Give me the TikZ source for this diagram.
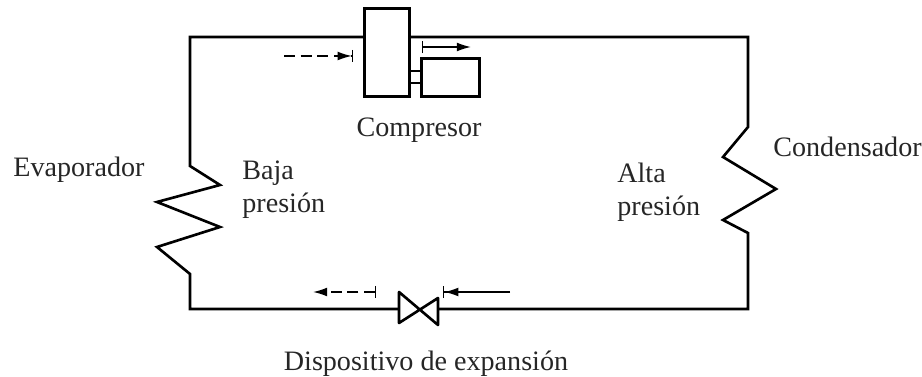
\documentclass[tikz,border=0pt]{standalone}
\usepackage{fontspec}
\setmainfont{Liberation Serif}
\usetikzlibrary{arrows.meta, positioning, calc}

\tikzset{
  pipe/.style={line width=1.5pt, line join=miter},
  unitbox/.style={draw, line width=1.5pt, fill=white, inner sep=0pt},
  flowarrow/.style={line width=0.8pt, -{Latex[length=8pt,width=5pt]Bar[width=7pt,line width=0.7pt]}},
  flowdash/.style={flowarrow, dash pattern=on 6.3pt off 3.2pt},
  label/.style={font=\fontsize{16}{19}\selectfont, inner sep=0pt, text=black!85},
}

\begin{document}
\begin{tikzpicture}[x=0.02cm,y=-0.02cm,>=latex]
\useasboundingbox (0,0) rectangle (922,377);

% Corners of the loop
\coordinate (tleft) at (190,37);
\coordinate (tright) at (748,37);
\coordinate (bright) at (748,309);
\coordinate (bleft) at (190,309);

% Compressor and motor
\node[unitbox, minimum width=0.89cm, minimum height=1.76cm] (comp) at (387,52.5) {};
\node[unitbox, minimum width=1.16cm, minimum height=0.76cm] (motor) at (450.5,77.5) {};
\draw[line width=1.2pt] (comp.east |- 0,71) -- (motor.west |- 0,71);
\draw[line width=1.2pt] (comp.east |- 0,83) -- (motor.west |- 0,83);

% Expansion valve
\coordinate (vlt) at (399,292);
\coordinate (vlb) at (399,323);
\coordinate (vrt) at (438,298);
\coordinate (vrb) at (438,325);
\coordinate (vl) at (399,309);
\coordinate (vr) at (438,309);
\draw[pipe, line join=round] (vlt) -- (vrb) -- (vrt) -- (vlb) -- cycle;

% Evaporator coil points
\coordinate (ea) at (190,166);
\coordinate (eb) at (220,185);
\coordinate (ec) at (157,202);
\coordinate (ed) at (220,227);
\coordinate (ee) at (157,247);
\coordinate (ef) at (190,274);

% Condenser coil points
\coordinate (ca) at (748,127);
\coordinate (cb) at (723,157);
\coordinate (cc) at (776,189);
\coordinate (cd) at (723,220);
\coordinate (ce) at (748,233);

% Piping
\draw[pipe] (comp.east |- tright) -- (tright) -- (ca) -- (cb) -- (cc) -- (cd) -- (ce) -- (bright) -- (vr);
\draw[pipe] (vl) -- (bleft) -- (ef) -- (ee) -- (ed) -- (ec) -- (eb) -- (ea) -- (tleft) -- (comp.west |- tleft);

% Flow arrows
\coordinate (fa) at (284,56);
\coordinate (fb) at (353,56);
\coordinate (fc) at (422,47);
\coordinate (fd) at (471,47);
\coordinate (fe) at (376,292);
\coordinate (ff) at (313,292);
\coordinate (fg) at (510,292);
\coordinate (fh) at (443,292);
\draw[flowdash] (fa) -- (fb);
\draw[line width=0.8pt, {Bar[width=7pt,line width=0.7pt]}-{Latex[length=8pt,width=5pt]}] (fc) -- (fd);
\draw[line width=0.8pt, dash pattern=on 6.3pt off 3.2pt, {Bar[width=7pt,line width=0.7pt]}-{Latex[length=8pt,width=5pt]}] (fe) -- (ff);
\draw[flowarrow] (fg) -- (fh);

% Labels
\node[label] (lcomp) at (419,130) {Compresor};
\node[label, anchor=west] (levap) at (13,170) {Evaporador};
\node[label, anchor=west] (lcond) at (773,147) {Condensador};
\node[label, anchor=west, align=left] (lbaja) at (242,190) {Baja\\presión};
\node[label, anchor=west, align=left] (lalta) at (617,192) {Alta\\presión};
\node[label] (lvalve) at (426,364) {Dispositivo de expansión};

\end{tikzpicture}
\end{document}
